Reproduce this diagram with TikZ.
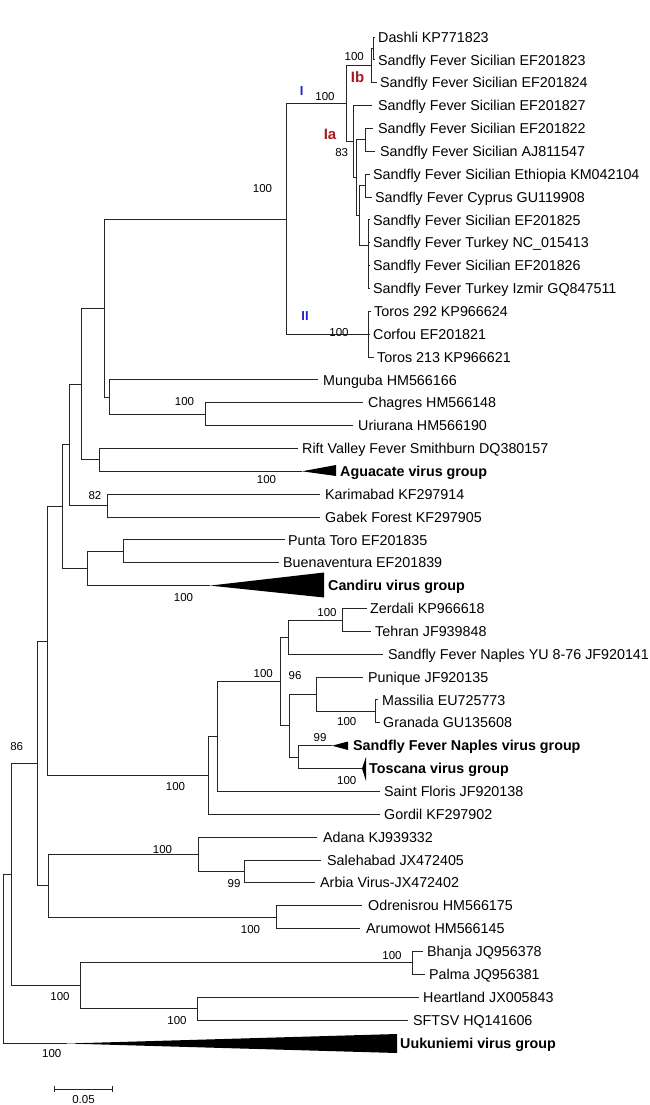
\documentclass[tikz,border=0pt]{standalone}
\usepackage{fontspec}
\setmainfont{Liberation Sans}
\definecolor{cladeblue}{RGB}{35,35,210}
\definecolor{cladered}{RGB}{170,25,35}
\tikzset{
 br/.style={draw=black!85, line width=0.9pt},
 lbl/.style={anchor=west, inner sep=0pt, font=\fontsize{14.3}{16}\selectfont, text height=10.3pt, text depth=0pt},
 grp/.style={anchor=west, inner sep=0pt, font=\fontsize{14.3}{16}\selectfont\bfseries, text height=10.3pt, text depth=0pt},
 bs/.style={inner sep=0pt, font=\fontsize{11.5}{13}\selectfont, text height=8.3pt, text depth=0pt},
 clb/.style={inner sep=0pt, font=\fontsize{13}{15}\selectfont\bfseries, text height=9.4pt, text depth=0pt, text=cladeblue},
 clr/.style={inner sep=0pt, font=\fontsize{15}{17}\selectfont\bfseries, text height=10.8pt, text depth=0pt, text=cladered},
 tri/.style={fill=black},
}
\newcommand\lf[6]{%
 \coordinate (#1) at (#3,#4);
 \draw[br] (#2) |- (#1);
 \node[lbl] (#1t) at (#5,#4) {#6};}
\begin{document}
\begin{tikzpicture}[x=1pt,y=-1pt]
\useasboundingbox (0,0) rectangle (650,1105);
\fill[white] (0,0) rectangle (650,1105);
% internal nodes
\coordinate (root) at (3,958.7);
\coordinate (n7) at (11,874.5);
\coordinate (bh) at (80,985.7);
\coordinate (bp) at (412,962.9);
\coordinate (hs) at (197,1008.6);
\coordinate (n6) at (37,763.3);
\coordinate (ao) at (48,885.7);
\coordinate (adsa) at (198,854.3);
\coordinate (sa) at (244,871.4);
\coordinate (oa) at (276,917.1);
\coordinate (n5) at (47,641);
\coordinate (tt) at (208,775.3);
\coordinate (ss) at (217,736.4);
\coordinate (pp) at (280,681.4);
\coordinate (zts) at (288,637.1);
\coordinate (zt) at (342,620);
\coordinate (qq) at (289,725.7);
\coordinate (pmg) at (316,694.2);
\coordinate (mg) at (375,711.4);
\coordinate (rr) at (298,757.1);
\coordinate (n4) at (62,506.7);
\coordinate (pbc) at (87,568.5);
\coordinate (pb) at (123,551.4);
\coordinate (n3) at (69,444.8);
\coordinate (kg) at (107,505.6);
\coordinate (n2) at (81,384);
\coordinate (ra) at (99,459.9);
\coordinate (n1) at (104,308);
\coordinate (mcu) at (109,397);
\coordinate (cu) at (205,414.2);
\coordinate (mm) at (286,219);
\coordinate (c2) at (368,334.2);
\coordinate (c1) at (346,103.7);
\coordinate (ib) at (371,65.6);
\coordinate (ds) at (373,48.5);
\coordinate (ia) at (353,141.7);
\coordinate (aa) at (356,177.8);
\coordinate (bb) at (365,139.9);
\coordinate (cc) at (359,215.7);
\coordinate (dd) at (365,185.6);
\coordinate (ee) at (368,245.8);
% internal connectors
\draw[br] (root) |- (n7);
\draw[br] (n7) |- (n6);
\draw[br] (n7) |- (bh);
\draw[br] (bh) |- (bp);
\draw[br] (bh) |- (hs);
\draw[br] (n6) |- (n5);
\draw[br] (n6) |- (ao);
\draw[br] (ao) |- (adsa);
\draw[br] (ao) |- (oa);
\draw[br] (adsa) |- (sa);
\draw[br] (n5) |- (n4);
\draw[br] (n5) |- (tt);
\draw[br] (tt) |- (ss);
\draw[br] (ss) |- (pp);
\draw[br] (pp) |- (zts);
\draw[br] (pp) |- (qq);
\draw[br] (zts) |- (zt);
\draw[br] (qq) |- (pmg);
\draw[br] (qq) |- (rr);
\draw[br] (pmg) |- (mg);
\draw[br] (n4) |- (n3);
\draw[br] (n4) |- (pbc);
\draw[br] (pbc) |- (pb);
\draw[br] (n3) |- (n2);
\draw[br] (n3) |- (kg);
\draw[br] (n2) |- (n1);
\draw[br] (n2) |- (ra);
\draw[br] (n1) |- (mm);
\draw[br] (n1) |- (mcu);
\draw[br] (mcu) |- (cu);
\draw[br] (mm) |- (c1);
\draw[br] (mm) |- (c2);
\draw[br] (c1) |- (ib);
\draw[br] (c1) |- (ia);
\draw[br] (ib) |- (ds);
\draw[br] (ia) |- (aa);
\draw[br] (aa) |- (bb);
\draw[br] (aa) |- (cc);
\draw[br] (cc) |- (dd);
\draw[br] (cc) |- (ee);
% leaves
\lf{t0}{ds}{375}{37.0}{378}{Dashli KP771823}
\lf{t1}{ds}{375}{59.9}{378}{Sandfly Fever Sicilian EF201823}
\lf{t2}{ib}{377}{82.7}{380}{Sandfly Fever Sicilian EF201824}
\lf{t3}{ia}{372}{105.6}{378}{Sandfly Fever Sicilian EF201827}
\lf{t4}{bb}{373}{128.4}{378}{Sandfly Fever Sicilian EF201822}
\lf{t5}{bb}{375}{151.3}{380}{Sandfly Fever Sicilian AJ811547}
\lf{t6}{dd}{370}{174.2}{373}{Sandfly Fever Sicilian Ethiopia KM042104}
\lf{t7}{dd}{372}{197.0}{375}{Sandfly Fever Cyprus GU119908}
\lf{t8}{ee}{370}{219.9}{373}{Sandfly Fever Sicilian EF201825}
\lf{t9}{ee}{370}{242.7}{373}{Sandfly Fever Turkey NC\_015413}
\lf{t10}{ee}{370}{265.6}{373}{Sandfly Fever Sicilian EF201826}
\lf{t11}{ee}{370}{288.5}{373}{Sandfly Fever Turkey Izmir GQ847511}
\lf{t12}{c2}{371}{311.3}{374}{Toros 292 KP966624}
\lf{t13}{c2}{370}{334.2}{373}{Corfou EF201821}
\lf{t14}{c2}{374}{357.0}{377}{Toros 213 KP966621}
\lf{t15}{mcu}{318}{379.9}{323}{Munguba HM566166}
\lf{t16}{cu}{363}{402.8}{368}{Chagres HM566148}
\lf{t17}{cu}{353}{425.6}{358}{Uriurana HM566190}
\lf{t18}{ra}{298}{448.5}{302}{Rift Valley Fever Smithburn DQ380157}
\lf{t20}{kg}{320}{494.2}{325}{Karimabad KF297914}
\lf{t21}{kg}{320}{517.1}{325}{Gabek Forest KF297905}
\lf{t22}{pb}{285}{539.9}{288}{Punta Toro EF201835}
\lf{t23}{pb}{279}{562.8}{283}{Buenaventura EF201839}
\lf{t25}{zt}{367}{608.5}{370}{Zerdali KP966618}
\lf{t26}{zt}{371}{631.4}{375}{Tehran JF939848}
\lf{t27}{zts}{383}{654.2}{388}{Sandfly Fever Naples YU 8-76 JF920141}
\lf{t28}{pmg}{363}{677.1}{368}{Punique JF920135}
\lf{t29}{mg}{378}{699.9}{382}{Massilia EU725773}
\lf{t30}{mg}{380}{722.8}{383}{Granada GU135608}
\lf{t33}{ss}{380}{791.4}{384}{Saint Floris JF920138}
\lf{t34}{tt}{380}{814.2}{384}{Gordil KF297902}
\lf{t35}{adsa}{317}{837.1}{323}{Adana KJ939332}
\lf{t36}{sa}{321}{860.0}{327}{Salehabad JX472405}
\lf{t37}{sa}{315}{882.8}{320}{Arbia Virus-JX472402}
\lf{t38}{oa}{362}{905.7}{368}{Odrenisrou HM566175}
\lf{t39}{oa}{360}{928.5}{366}{Arumowot HM566145}
\lf{t40}{bp}{423}{951.4}{427}{Bhanja JQ956378}
\lf{t41}{bp}{425}{974.3}{429}{Palma JQ956381}
\lf{t42}{hs}{419}{997.1}{423}{Heartland JX005843}
\lf{t43}{hs}{408}{1020.0}{413}{SFTSV HQ141606}
% collapsed groups
\coordinate (agA) at (302,471.3);
\draw[br] (ra) |- (agA);
\fill[tri] (agA) -- (336,465) -- (336,476) -- cycle;
\node[grp] (agT) at (340,471.3) {Aguacate virus group};
\coordinate (caA) at (210,585.6);
\draw[br] (pbc) |- (caA);
\fill[tri] (caA) -- (324,572.5) -- (324,597.5) -- cycle;
\node[grp] (caT) at (328,585.6) {Candiru virus group};
\coordinate (sfA) at (332,745.7);
\draw[br] (rr) |- (sfA);
\fill[tri] (sfA) -- (348,741.5) -- (348,750) -- cycle;
\node[grp] (sfT) at (353,745.7) {Sandfly Fever Naples virus group};
\coordinate (toA) at (362,768.5);
\draw[br] (rr) |- (toA);
\fill[tri] (toA) -- (366,757) -- (366,781) -- cycle;
\node[grp] (toT) at (369,768.5) {Toscana virus group};
\coordinate (uuA) at (67,1043.5);
\draw[br] (root) |- (uuA);
\fill[tri] (uuA) -- (397,1034) -- (397,1053) -- cycle;
\node[grp] (uuT) at (400,1043.5) {Uukuniemi virus group};
% bootstrap values
\node[bs] (b1) at (354.2,56.7) {100};
\node[bs] (b2) at (325,96.7) {100};
\node[bs] (b3) at (341.7,152) {83};
\node[bs] (b4) at (262.5,188.3) {100};
\node[bs] (b5) at (339,332) {100};
\node[bs] (b6) at (184.5,401) {100};
\node[bs] (b7) at (266.5,479) {100};
\node[bs] (b8) at (95,495) {82};
\node[bs] (b9) at (183.5,597) {100};
\node[bs] (b10) at (327,612) {100};
\node[bs] (b11) at (263.3,673) {100};
\node[bs] (b12) at (295,675) {96};
\node[bs] (b13) at (346.7,721.7) {100};
\node[bs] (b14) at (320,737.5) {99};
\node[bs] (b15) at (346.7,780) {100};
\node[bs] (b16) at (175.5,786) {100};
\node[bs] (b17) at (16.7,746.7) {86};
\node[bs] (b18) at (162.5,849) {100};
\node[bs] (b19) at (234,883) {99};
\node[bs] (b20) at (250.5,929) {100};
\node[bs] (b21) at (392,955) {100};
\node[bs] (b22) at (60,996.7) {100};
\node[bs] (b23) at (177,1020) {100};
\node[bs] (b24) at (51.7,1053.5) {100};
% clade labels
\node[clb] (cI) at (301.7,90.5) {I};
\node[clb] (cII) at (305,316) {II};
\node[clr] (cIb) at (357.5,77) {Ib};
\node[clr] (cIa) at (330,134) {Ia};
% scale bar
\coordinate (sb1) at (54,1089);
\coordinate (sb2) at (112,1089);
\draw[br] (sb1) -- (sb2);
\draw[br] ([yshift=3.3pt]sb1) -- ([yshift=-3.3pt]sb1);
\draw[br] ([yshift=3.3pt]sb2) -- ([yshift=-3.3pt]sb2);
\node[bs] (sbl) at (83.5,1099) {0.05};
\end{tikzpicture}
\end{document}
